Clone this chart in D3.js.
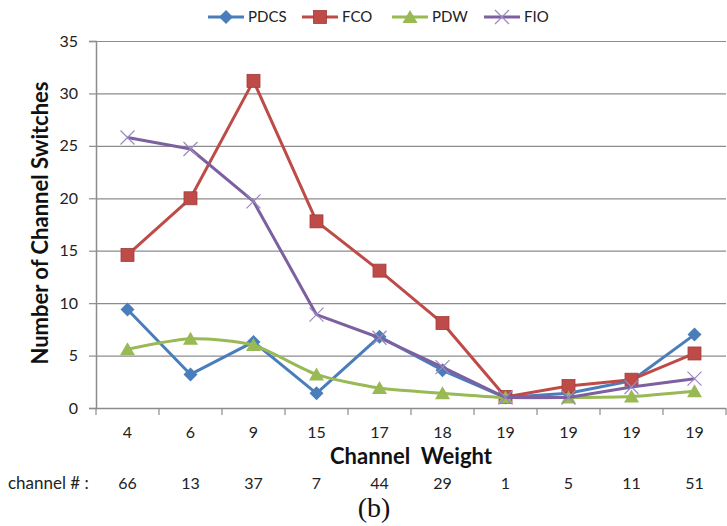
<!DOCTYPE html>
<html>
<head>
<meta charset="utf-8">
<script src="https://cdn.jsdelivr.net/npm/d3@7"></script>
<style>
  body { margin: 0; background: #fff; }
  text { font-family: Lato, "Open Sans", sans-serif; }
</style>
</head>
<body>
<script>
// chart data
var weights = ['4', '6', '9', '15', '17', '18', '19', '19', '19', '19'];
var channels = ['66', '13', '37', '7', '44', '29', '1', '5', '11', '51'];
var yTicks = [0, 5, 10, 15, 20, 25, 30, 35];
var pdcs = [9.4, 3.2, 6.3, 1.4, 6.8, 3.6, 1.0, 1.4, 2.6, 7.0];
var fco = [14.6, 20.0, 31.2, 17.8, 13.1, 8.1, 1.05, 2.1, 2.7, 5.2];
var pdw = [5.6, 6.6, 6.0, 3.2, 1.9, 1.4, 1.0, 1.0, 1.1, 1.6];
var fio = [25.8, 24.7, 19.7, 8.9, 6.7, 3.9, 1.0, 1.0, 2.0, 2.8];

var series = [
  {name: 'PDCS', values: pdcs, color: '#4a7ebb', marker: 'diamond', smooth: false},
  {name: 'FCO', values: fco, color: '#be4b48', marker: 'square', smooth: false},
  {name: 'PDW', values: pdw, color: '#98b954', marker: 'triangle', smooth: true},
  {name: 'FIO', values: fio, color: '#7d60a0', marker: 'cross', smooth: false}
];

var width = 727, height = 526;
var plotL = 96, plotR = 726, plotT = 41, plotB = 408;

var svg = d3.select('body').append('svg')
  .attr('width', width)
  .attr('height', height);

var x = d3.scaleBand().domain(d3.range(weights.length)).range([plotL, plotR]);
var y = d3.scaleLinear().domain([0, 35]).range([plotB, plotT]);

// gridlines
svg.append('g').selectAll('line').data(yTicks.slice(1)).enter().append('line')
  .attr('x1', plotL).attr('x2', plotR)
  .attr('y1', function(d){ return y(d) + 0.5 })
  .attr('y2', function(d){ return y(d) + 0.5 })
  .attr('stroke', '#8c8c8c').attr('stroke-width', 1.2);

// y axis
var yAxis = d3.axisLeft(y).tickValues(yTicks).tickSize(7).tickPadding(11);
var gy = svg.append('g').attr('transform', 'translate(' + plotL + ',0)').call(yAxis);
gy.select('.domain').attr('stroke', '#8c8c8c').attr('stroke-width', 1.5);
gy.selectAll('.tick line').attr('stroke', '#8c8c8c').attr('stroke-width', 1.2);
gy.selectAll('.tick text').attr('font-size', 16).attr('fill', '#222')
  .style('font-family', 'Lato, sans-serif');

// x axis (ticks between categories)
svg.append('line')
  .attr('x1', plotL).attr('x2', plotR).attr('y1', plotB + 0.5).attr('y2', plotB + 0.5)
  .attr('stroke', '#8c8c8c').attr('stroke-width', 1.5);
svg.append('g').selectAll('line').data(d3.range(weights.length + 1)).enter().append('line')
  .attr('x1', function(i){ return plotL + i * x.step() })
  .attr('x2', function(i){ return plotL + i * x.step() })
  .attr('y1', plotB).attr('y2', plotB + 7)
  .attr('stroke', '#8c8c8c').attr('stroke-width', 1.2);

svg.append('g').selectAll('text').data(weights).enter().append('text')
  .attr('x', function(d, i){ return x(i) + x.bandwidth() / 2 })
  .attr('y', 438)
  .attr('text-anchor', 'middle')
  .attr('font-size', 16).attr('fill', '#222')
  .text(function(d){ return d });

svg.append('text')
  .attr('x', 411).attr('y', 464)
  .attr('text-anchor', 'middle')
  .attr('font-size', 22).attr('font-weight', 'bold').attr('fill', '#111')
  .text('Channel\u00a0 Weight');

svg.append('text')
  .attr('transform', 'translate(48,223) rotate(-90)')
  .attr('text-anchor', 'middle')
  .attr('font-size', 22).attr('font-weight', 'bold').attr('fill', '#111')
  .text('Number of Channel Switches');

// channel # row
svg.append('text')
  .attr('x', 8).attr('y', 489)
  .attr('font-size', 17).attr('fill', '#222')
  .text('channel # :');
svg.append('g').selectAll('text').data(channels).enter().append('text')
  .attr('x', function(d, i){ return x(i) + x.bandwidth() / 2 })
  .attr('y', 489)
  .attr('text-anchor', 'middle')
  .attr('font-size', 16).attr('fill', '#222')
  .text(function(d){ return d });

svg.append('text')
  .attr('x', 374).attr('y', 517)
  .attr('text-anchor', 'middle')
  .attr('font-size', 28).attr('fill', '#111')
  .style('font-family', '"Liberation Serif", serif')
  .text('(b)');

// markers
var drawMarker = function(g, type, color, cx, cy){
  if(type === 'diamond'){
    g.append('path')
      .attr('d', 'M' + cx + ',' + (cy - 7) + 'L' + (cx + 7) + ',' + cy + 'L' + cx + ',' + (cy + 7) + 'L' + (cx - 7) + ',' + cy + 'Z')
      .attr('fill', color);
  } else if(type === 'square'){
    g.append('rect')
      .attr('x', cx - 6.5).attr('y', cy - 6.5).attr('width', 13).attr('height', 13)
      .attr('fill', color).attr('stroke', '#a33c3a').attr('stroke-width', 0.8);
  } else if(type === 'triangle'){
    g.append('path')
      .attr('d', 'M' + cx + ',' + (cy - 7) + 'L' + (cx + 7.5) + ',' + (cy + 6) + 'L' + (cx - 7.5) + ',' + (cy + 6) + 'Z')
      .attr('fill', color);
  } else {
    g.append('path')
      .attr('d', 'M' + (cx - 7) + ',' + (cy - 7) + 'L' + (cx + 7) + ',' + (cy + 7) + 'M' + (cx - 7) + ',' + (cy + 7) + 'L' + (cx + 7) + ',' + (cy - 7))
      .attr('stroke', '#9a88c0').attr('stroke-width', 1.2).attr('fill', 'none');
  }
}

// lines
series.forEach(function(s){
  var line = d3.line()
    .x(function(d, i){ return x(i) + x.bandwidth() / 2 })
    .y(function(d){ return y(d) })
    .curve(s.smooth ? d3.curveCardinal.tension(0.3) : d3.curveLinear);
  var g = svg.append('g');
  g.append('path')
    .attr('d', line(s.values))
    .attr('fill', 'none')
    .attr('stroke', s.color)
    .attr('stroke-width', 3)
    .attr('stroke-linejoin', 'round');
  s.values.forEach(function(v, i){
    drawMarker(g, s.marker, s.color, x(i) + x.bandwidth() / 2, y(v));
  });
});

// legend
var legendX = [208, 302, 392, 484];
series.forEach(function(s, i){
  var g = svg.append('g');
  var lx = legendX[i];
  g.append('line')
    .attr('x1', lx).attr('x2', lx + 36).attr('y1', 17).attr('y2', 17)
    .attr('stroke', s.color).attr('stroke-width', 3);
  drawMarker(g, s.marker, s.color, lx + 18, 17);
  g.append('text')
    .attr('x', lx + 40).attr('y', 22)
    .attr('font-size', 15).attr('fill', '#222')
    .text(s.name);
});
</script>
</body>
</html>
